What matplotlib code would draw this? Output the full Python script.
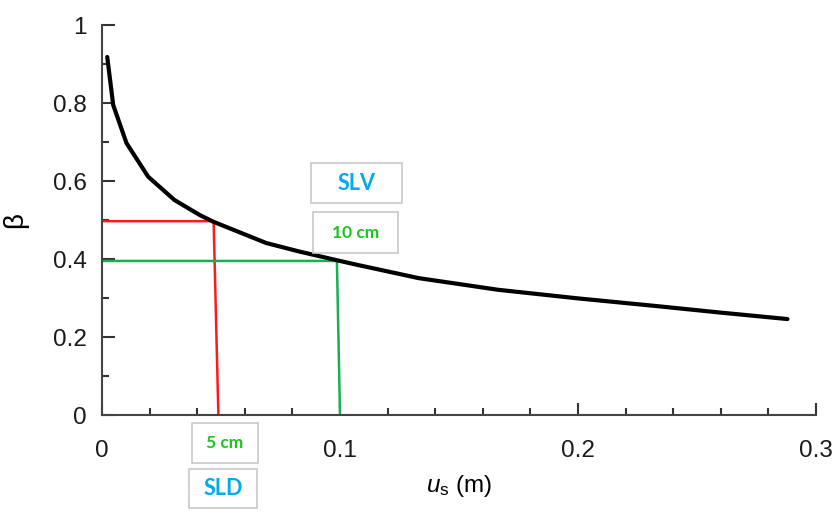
import matplotlib
matplotlib.use('Agg')
import matplotlib.pyplot as plt
from matplotlib.patches import Rectangle
from matplotlib.ticker import MultipleLocator

plt.rcParams['font.family'] = ['Liberation Sans', 'DejaVu Sans']
plt.rcParams['mathtext.fontset'] = 'custom'
plt.rcParams['mathtext.rm'] = 'Liberation Sans'
plt.rcParams['mathtext.it'] = 'Liberation Sans:italic'

# curve
us = [0.0022, 0.0047, 0.0103, 0.0194, 0.0305, 0.041, 0.047, 0.069, 0.083,
      0.1, 0.108, 0.133, 0.1665, 0.2, 0.2335, 0.26, 0.288]
beta = [0.918, 0.795, 0.697, 0.611, 0.551, 0.513, 0.495, 0.441, 0.419,
        0.395, 0.384, 0.351, 0.321, 0.299, 0.279, 0.2625, 0.246]

# SLD / SLV guide lines
sld_u = [0.0469, 0.0489]
sld_beta = 0.497
slv_u = [0.0987, 0.1]
slv_beta = 0.395

xticks = [0, 0.1, 0.2, 0.3]
xlabels = ['0', '0.1', '0.2', '0.3']
yticks = [0, 0.2, 0.4, 0.6, 0.8, 1.0]
ylabels = ['0', '0.2', '0.4', '0.6', '0.8', '1']

W, H = 838, 520
fig = plt.figure(figsize=(W / 100, H / 100), dpi=100)
ax = fig.add_axes([102 / W, 105 / H, 714 / W, 390 / H])

ax.plot([0, sld_u[0], sld_u[1]], [sld_beta, sld_beta, 0], color='#ff1a1a', lw=1.8, zorder=2)
ax.plot([0, slv_u[0], slv_u[1]], [slv_beta, slv_beta, 0], color='#1aaf50', lw=1.8, zorder=2)
ax.plot(us, beta, color='black', lw=3, solid_capstyle='round', solid_joinstyle='round', zorder=3)

ax.set_xticks(xticks, xlabels)
ax.set_yticks(yticks, ylabels)
ax.xaxis.set_minor_locator(MultipleLocator(0.02))
ax.yaxis.set_minor_locator(MultipleLocator(0.1))
ax.set_xlim(0, 0.3)
ax.set_ylim(0, 1)

for s in ['top', 'right']:
    ax.spines[s].set_visible(False)
for s in ['left', 'bottom']:
    ax.spines[s].set_color('#444444')
    ax.spines[s].set_linewidth(1.5)

ax.tick_params(which='both', direction='in', color='#333333', width=1.5)
ax.tick_params(which='major', length=9)
ax.tick_params(which='minor', length=5)
ax.tick_params(axis='x', which='major', pad=18, labelsize=17.5, labelcolor='#1a1a1a')
ax.tick_params(axis='y', which='major', pad=11, labelsize=17.5, labelcolor='#1a1a1a')

ax.set_xlabel(r'$u_{\rm s}$ (m)', fontsize=17.5, labelpad=8)
ax.set_ylabel('β', fontsize=20, labelpad=18)

# label boxes (pixel positions)
boxes = [
    (311, 163, 402, 203, 'SLV', '#00aaee'),
    (313, 212, 398, 253, '10 cm', '#1ec31e'),
    (192, 423, 258, 463, '5 cm', '#1ec31e'),
    (189, 469, 257, 508, 'SLD', '#00aaee'),
]
for x0, y0, x1, y1, txt, col in boxes:
    fig.patches.append(Rectangle((x0 / W, 1 - y1 / H), (x1 - x0) / W, (y1 - y0) / H,
                                 transform=fig.transFigure, facecolor='white',
                                 edgecolor='#c8c8c8', lw=1.2))
    fs = 15.5 if txt.startswith('SL') else 12.5
    fig.text((x0 + x1) / 2 / W, 1 - (y0 + y1) / 2 / H, txt, color=col,
             fontsize=fs, fontweight='bold', family=['Lato', 'DejaVu Sans'],
             ha='center', va='center')

plt.savefig('out.png', dpi=100)
